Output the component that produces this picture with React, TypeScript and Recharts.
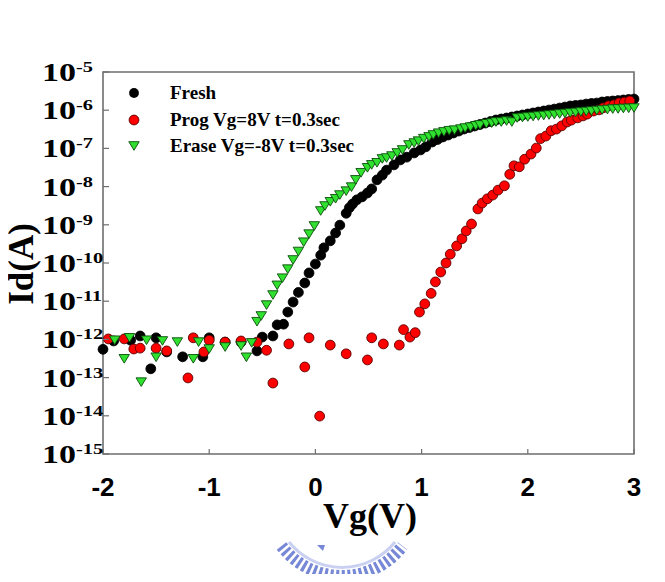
import { ScatterChart, Scatter, XAxis, YAxis, ReferenceArea, Legend } from 'recharts';

// Vg sweep (V) and drain current (A) for each state
const freshVg = [
  -2.0, -1.9, -1.74, -1.65, -1.55, -1.5, -1.4, -1.25, -1.06, -1.0, -0.85, -0.7, -0.55, -0.5, -0.4,
  -0.36, -0.3, -0.26, -0.21, -0.16, -0.1, -0.06, 0.0, 0.05, 0.08, 0.14, 0.19, 0.23, 0.29, 0.32,
  0.35, 0.39, 0.44, 0.49, 0.53, 0.58, 0.63, 0.67, 0.74, 0.8, 0.86, 0.93, 0.99, 1.04, 1.1, 1.15,
  1.2, 1.25, 1.3, 1.35, 1.4, 1.45, 1.5, 1.55, 1.6, 1.65, 1.7, 1.75, 1.8, 1.85, 1.9, 1.95, 2.0,
  2.05, 2.1, 2.15, 2.2, 2.25, 2.3, 2.35, 2.4, 2.45, 2.5, 2.55, 2.6, 2.65, 2.7, 2.75, 2.8, 2.85,
  2.9, 2.95, 3.0,
];
const freshId = [
  5.5e-13, 9.1e-13, 9.5e-13, 1.23e-12, 1.7e-13, 1.1e-12, 4.7e-13, 3.5e-13, 3.5e-13, 1.1e-12, 8.5e-13,
  8.5e-13, 5.0e-13, 1.15e-12, 1.23e-12, 2.4e-12, 2.5e-12, 5.2e-12, 9.5e-12, 1.7e-11, 3.0e-11, 5.5e-11,
  9.4e-11, 1.6e-10, 2.5e-10, 3.8e-10, 6.1e-10, 9.8e-10, 2.0e-9, 2.8e-9, 3.5e-9, 4.5e-9, 5.4e-9, 6.8e-9,
  8.7e-9, 1.5e-8, 2.0e-8, 2.7e-8, 3.7e-8, 5.0e-8, 5.9e-8, 7.6e-8, 9.1e-8, 1.1e-7, 1.47e-7, 1.71e-7,
  1.99e-7, 2.24e-7, 2.53e-7, 2.85e-7, 3.22e-7, 3.52e-7, 3.86e-7, 4.22e-7, 4.62e-7, 5.06e-7, 5.54e-7,
  5.88e-7, 6.25e-7, 6.64e-7, 7.05e-7, 7.48e-7, 7.96e-7, 8.45e-7, 8.98e-7, 9.53e-7, 1.01e-6, 1.07e-6,
  1.14e-6, 1.21e-6, 1.29e-6, 1.33e-6, 1.37e-6, 1.45e-6, 1.5e-6, 1.54e-6, 1.64e-6, 1.69e-6, 1.74e-6,
  1.79e-6, 1.85e-6, 1.91e-6, 1.96e-6,
];

const progVg = [
  -1.95, -1.8, -1.71, -1.65, -1.5, -1.4, -1.2, -1.15, -1.05, -1.0, -0.85, -0.7, -0.55, -0.46, -0.4,
  -0.25, -0.1, -0.06, 0.04, 0.14, 0.29, 0.49, 0.53, 0.64, 0.79, 0.83, 0.89, 0.94, 0.98, 1.03, 1.09,
  1.13, 1.18, 1.23, 1.27, 1.33, 1.38, 1.42, 1.47, 1.53, 1.57, 1.62, 1.67, 1.72, 1.78, 1.83, 1.87,
  1.92, 1.97, 2.03, 2.08, 2.12, 2.17, 2.22, 2.27, 2.32, 2.37, 2.41, 2.47, 2.52, 2.56, 2.62, 2.67,
  2.71, 2.76, 2.81, 2.86, 2.91, 2.96,
];
const progId = [
  1.03e-12, 1.03e-12, 5.6e-13, 5.9e-13, 5.9e-13, 5.0e-13, 9.8e-14, 1.1e-12, 4.7e-13, 9.5e-13, 8.5e-13,
  9.1e-13, 8.5e-13, 5.2e-13, 7.2e-14, 7.6e-13, 1.9e-13, 1.1e-12, 9.8e-15, 7.1e-13, 4.2e-13, 2.9e-13,
  1.1e-12, 7.6e-13, 7.1e-13, 1.8e-12, 1.15e-12, 1.5e-12, 5.2e-12, 8.5e-12, 1.6e-11, 3.2e-11, 5.8e-11,
  1.0e-10, 1.7e-10, 2.8e-10, 4.3e-10, 6.9e-10, 1.05e-9, 2.6e-9, 3.7e-9, 4.8e-9, 6.0e-9, 8.1e-9,
  1.05e-8, 2.1e-8, 3.5e-8, 3.3e-8, 5.2e-8, 7.1e-8, 1.02e-7, 1.8e-7, 2.1e-7, 2.9e-7, 3.2e-7, 3.9e-7,
  4.9e-7, 5.5e-7, 6.3e-7, 7.1e-7, 7.9e-7, 9.5e-7, 1.02e-6, 1.15e-6, 1.3e-6, 1.38e-6, 1.55e-6, 1.63e-6,
  1.74e-6,
];

const eraseVg = [
  -1.89, -1.8, -1.75, -1.64, -1.59, -1.5, -1.44, -1.3, -1.15, -1.1, -1.0, -0.85, -0.7, -0.65, -0.6,
  -0.55, -0.51, -0.46, -0.4, -0.36, -0.31, -0.26, -0.21, -0.16, -0.11, -0.06, -0.01, 0.05, 0.09, 0.14,
  0.19, 0.23, 0.29, 0.34, 0.38, 0.43, 0.49, 0.53, 0.58, 0.63, 0.67, 0.72, 0.77, 0.82, 0.88, 0.93,
  0.97, 1.02, 1.07, 1.11, 1.16, 1.21, 1.26, 1.31, 1.37, 1.41, 1.46, 1.51, 1.55, 1.61, 1.66, 1.7,
  1.75, 1.8, 1.85, 1.9, 1.95, 2.0, 2.05, 2.1, 2.15, 2.2, 2.25, 2.3, 2.35, 2.4, 2.45, 2.5, 2.55, 2.6,
  2.65, 2.7, 2.75, 2.8, 2.85, 2.9, 2.95, 3.0,
];
const eraseId = [
  9.5e-13, 3.1e-13, 1.1e-12, 7.6e-14, 9.5e-13, 3.4e-13, 9.1e-13, 8.5e-13, 3.1e-13, 8.5e-13, 5.6e-13,
  6.3e-13, 6.7e-13, 3.4e-13, 8.1e-13, 2.9e-12, 4.1e-12, 7.9e-12, 1.45e-11, 2.6e-11, 4.0e-11, 6.9e-11,
  1.2e-10, 2.0e-10, 3.5e-10, 5.7e-10, 9.3e-10, 2.3e-9, 3.1e-9, 4.0e-9, 4.8e-9, 6.0e-9, 7.6e-9, 9.7e-9,
  1.5e-8, 2.3e-8, 3.1e-8, 3.7e-8, 4.2e-8, 5.3e-8, 5.6e-8, 6.3e-8, 7.6e-8, 9.1e-8, 1.23e-7, 1.38e-7,
  1.55e-7, 1.8e-7, 2.0e-7, 2.25e-7, 2.5e-7, 2.7e-7, 2.9e-7, 3.0e-7, 3.2e-7, 3.4e-7, 3.6e-7, 3.9e-7,
  4.1e-7, 4.4e-7, 4.6e-7, 4.9e-7, 4.9e-7, 5.2e-7, 4.9e-7, 6.25e-7, 6.45e-7, 6.64e-7, 6.84e-7, 7.05e-7,
  7.26e-7, 7.48e-7, 7.71e-7, 7.96e-7, 8.2e-7, 8.45e-7, 8.71e-7, 8.98e-7, 9.25e-7, 9.53e-7, 9.82e-7,
  1.01e-6, 1.04e-6, 1.07e-6, 1.08e-6, 1.11e-6, 1.12e-6, 1.14e-6,
];

const vgTicks = [-2, -1, 0, 1, 2, 3];
const idTicks = [1e-15, 1e-14, 1e-13, 1e-12, 1e-11, 1e-10, 1e-9, 1e-8, 1e-7, 1e-6, 1e-5];

const legendNames = ['Fresh', 'Prog Vg=8V t=0.3sec', 'Erase Vg=-8V t=0.3sec'];

const AXIS = '#6e6e6e';
const SERIF = "'Liberation Serif', 'Times New Roman', serif";
const SANS = "'Liberation Sans', Arial, sans-serif";

const toPoints = (vg: number[], id: number[]) => vg.map((v, i) => ({ vg: v, id: id[i] }));

const fresh = toPoints(freshVg, freshId);
const prog = toPoints(progVg, progId);
const erase = toPoints(eraseVg, eraseId);

function Dot({ cx, cy, fill, stroke }: any) {
  return <circle cx={cx} cy={cy} r={4.9} fill={fill} stroke={stroke} strokeWidth={0.9} />;
}

function DownTriangle({ cx, cy }: any) {
  const h = 8.6;
  const w = 5.2;
  return (
    <polygon
      points={`${cx - w},${cy - h / 2} ${cx + w},${cy - h / 2} ${cx},${cy + h / 2}`}
      fill="#2fe02f"
      stroke="#0b4d0b"
      strokeWidth={0.9}
      strokeLinejoin="round"
    />
  );
}

// x ticks point into the plot, labels in bold sans
function VgTick({ x, y, payload }: any) {
  return (
    <g>
      <line x1={x} y1={y} x2={x} y2={y - 5} stroke={AXIS} strokeWidth={1.2} />
      <text x={x} y={y + 42} textAnchor="middle" fontFamily={SANS} fontWeight="bold" fontSize={26} fill="#000">
        {payload.value}
      </text>
    </g>
  );
}

// decade labels as 10 with a raised exponent, left aligned
function IdTick({ x, y, payload }: any) {
  const exp = Math.round(Math.log10(payload.value));
  return (
    <g>
      <line x1={x} y1={y} x2={x + 6} y2={y} stroke={AXIS} strokeWidth={1.2} />
      <g transform={`translate(34,${y + 9}) scale(1.36,1)`}>
        <text textAnchor="start" fontFamily={SERIF} fontWeight="bold" fontSize={25} fill="#000">
          10<tspan dy={-9} fontSize={15}>{exp}</tspan>
        </text>
      </g>
    </g>
  );
}

function LegendMarker({ idx }: { idx: number }) {
  return (
    <svg width={16} height={16}>
      {idx === 0 && <circle cx={8} cy={8} r={4.9} fill="#000" />}
      {idx === 1 && <circle cx={8} cy={8} r={4.9} fill="#ff0000" stroke="#5a0000" strokeWidth={0.9} />}
      {idx === 2 && <DownTriangle cx={8} cy={8} />}
    </svg>
  );
}

function LegendBox() {
  return (
    <div style={{ display: 'flex', flexDirection: 'column' }}>
      {legendNames.map((name, i) => (
        <div key={name} style={{ height: 26.5, display: 'flex', alignItems: 'center' }}>
          <LegendMarker idx={i} />
          <span
            style={{
              marginLeft: 28,
              fontFamily: SERIF,
              fontWeight: 'bold',
              fontSize: 19,
              color: '#000',
              whiteSpace: 'nowrap',
            }}
          >
            {name}
          </span>
        </div>
      ))}
    </div>
  );
}

export default function App() {
  return (
    <div style={{ position: 'relative', width: 657, height: 566 }}>
      <ScatterChart width={657} height={566} margin={{ top: 64, right: 31, bottom: 60, left: 0 }}>
        <XAxis
          type="number"
          dataKey="vg"
          domain={[-2, 3]}
          ticks={vgTicks}
          interval={0}
          height={60}
          axisLine={false}
          tickLine={false}
          tickSize={0}
          tickMargin={0}
          tick={<VgTick />}
        />
        <YAxis
          type="number"
          dataKey="id"
          scale="log"
          domain={[1e-15, 1e-5]}
          allowDataOverflow
          ticks={idTicks}
          interval={0}
          width={95}
          axisLine={false}
          tickLine={false}
          tickSize={0}
          tickMargin={0}
          tick={<IdTick />}
        />
        <ReferenceArea
          x1={-2}
          x2={3}
          y1={1e-15}
          y2={1e-5}
          fill="none"
          stroke={AXIS}
          strokeWidth={1.6}
          ifOverflow="visible"
        />
        <Legend
          layout="horizontal"
          verticalAlign="middle"
          align="center"
          content={<LegendBox />}
          wrapperStyle={{ position: 'absolute', left: 118, top: 72, width: 260, height: 80 }}
        />
        <Scatter name="Fresh" data={fresh} isAnimationActive={false} shape={<Dot fill="#000" stroke="#000" />} />
        <Scatter name="Prog" data={prog} isAnimationActive={false} shape={<Dot fill="#ff0000" stroke="#5a0000" />} />
        <Scatter name="Erase" data={erase} isAnimationActive={false} shape={<DownTriangle />} />
      </ScatterChart>
      <svg
        width={657}
        height={566}
        style={{ position: 'absolute', left: 0, top: 0, pointerEvents: 'none', overflow: 'visible' }}
      >
        <text
          transform="translate(25,256) rotate(-90)"
          textAnchor="middle"
          fontFamily={SERIF}
          fontWeight="bold"
          fontSize={35}
          fill="#000"
        >
          Id(A)
        </text>
        <text x={362} y={520} textAnchor="middle" fontFamily={SERIF} fontWeight="bold" fontSize={36} fill="#000">
          Vg(V)
        </text>
        {/* campus emblem under the axis title */}
        <path
          d="M 273.5 538 A 76 76 0 0 0 394.5 538"
          fill="none"
          stroke="#7688d6"
          strokeWidth={12}
          strokeDasharray="3.2 2.6"
        />
        <path d="M 281 534 A 68 68 0 0 0 387 534" fill="none" stroke="#c9d0f1" strokeWidth={3} />
        <path d="M 309 537 L 317 537 L 315 543 Z" fill="#7688d6" />
      </svg>
    </div>
  );
}
